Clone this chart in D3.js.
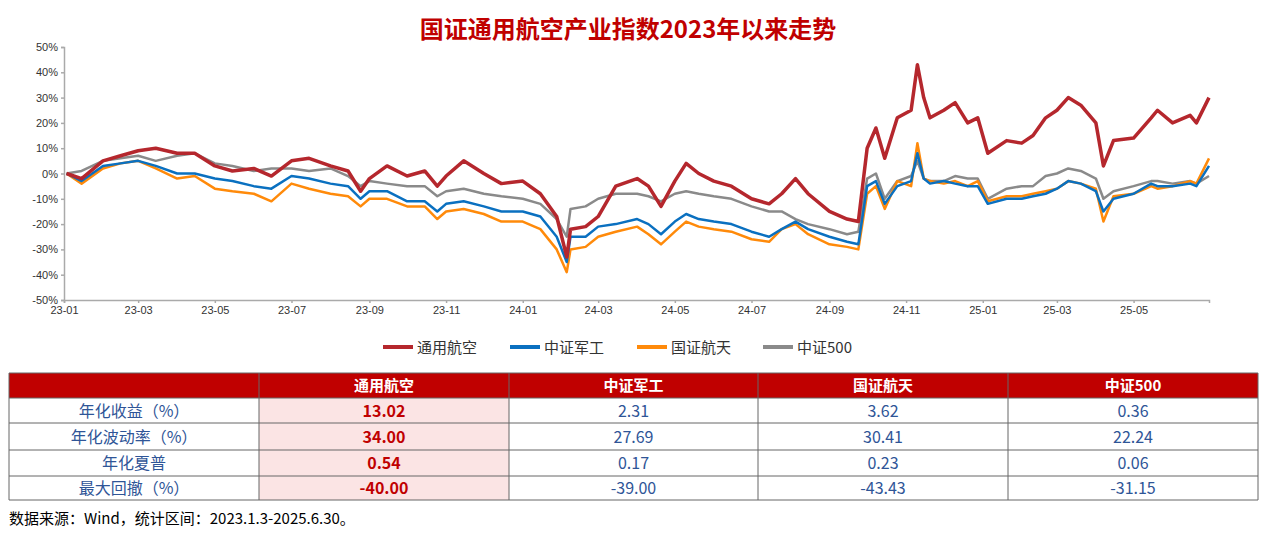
<!DOCTYPE html>
<html><head><meta charset="utf-8">
<script src="https://cdn.jsdelivr.net/npm/d3@7"></script>
<style>body{margin:0;background:#fff;font-family:"Noto Sans CJK SC",sans-serif}</style>
</head><body><svg id="c" width="1269" height="538"></svg>
<script>
const dates=["2023-01-03","2023-01-15","2023-02-01","2023-02-15","2023-03-01","2023-03-15","2023-04-01","2023-04-15","2023-05-01","2023-05-15","2023-06-01","2023-06-15","2023-07-01","2023-07-15","2023-08-01","2023-08-15","2023-08-25","2023-09-01","2023-09-15","2023-10-01","2023-10-15","2023-10-25","2023-11-01","2023-11-15","2023-12-01","2023-12-15",
"2024-01-01","2024-01-15","2024-01-28","2024-02-05","2024-02-08","2024-02-20","2024-03-01","2024-03-15","2024-04-01","2024-04-10","2024-04-20","2024-05-01","2024-05-10","2024-05-20","2024-06-01","2024-06-15","2024-07-01","2024-07-15","2024-07-25","2024-08-05","2024-08-15","2024-09-01","2024-09-15","2024-09-24","2024-10-01","2024-10-08","2024-10-15","2024-10-25","2024-11-05","2024-11-10","2024-11-15","2024-11-20","2024-12-01","2024-12-10","2024-12-20","2024-12-28",
"2025-01-05","2025-01-20","2025-02-01","2025-02-10","2025-02-20","2025-03-01","2025-03-10","2025-03-20","2025-04-01","2025-04-07","2025-04-15","2025-05-01","2025-05-15","2025-05-20","2025-06-01","2025-06-15","2025-06-20","2025-06-30"];
const tyhk=[0,-2,5,7,9,10,8,8,3,1,2,-1,5,6,3,1,-7,-2,3,-1,1,-5,-1,5,0,-4,
-3,-8,-17,-33,-22,-21,-17,-5,-2,-5,-13,-3,4,0,-3,-5,-10,-12,-8,-2,-8,-15,-18,-19,10,18,6,22,25,43,30,22,25,28,20,22,
8,13,12,15,22,25,30,27,20,3,13,14,22,25,20,23,20,30];
const zzjg=[0,-3,3,4,5,3,0,0,-2,-3,-5,-6,-1,-2,-4,-5,-10,-7,-7,-11,-11,-15,-12,-11,-13,-15,
-15,-17,-25,-35,-25,-25,-21,-20,-18,-20,-24,-19,-16,-18,-19,-20,-23,-25,-22,-19,-22,-25,-27,-28,-5,-3,-12,-5,-3,8,-2,-4,-3,-4,-5,-5,
-12,-10,-10,-9,-8,-6,-3,-4,-7,-15,-10,-8,-4,-5,-5,-4,-5,3];
const gzht=[0,-4,2,4,5,2,-2,-1,-6,-7,-8,-11,-4,-6,-8,-9,-13,-10,-10,-13,-13,-18,-15,-14,-16,-19,
-19,-22,-30,-39,-30,-29,-25,-23,-21,-24,-28,-23,-19,-21,-22,-23,-26,-27,-22,-20,-24,-28,-29,-30,-8,-5,-14,-3,-5,12,-2,-3,-4,-3,-5,-3,
-11,-9,-9,-8,-7,-6,-3,-4,-6,-19,-9,-8,-5,-6,-5,-3,-4,6];
const zz500=[0,1,5,6,7,5,7,8,4,3,1,2,2,1,2,-1,-5,-3,-4,-5,-5,-9,-7,-6,-8,-9,
-10,-12,-18,-25,-14,-13,-10,-8,-8,-9,-11,-8,-7,-8,-9,-10,-13,-15,-15,-18,-20,-22,-24,-23,-2,0,-10,-3,-1,5,-2,-3,-3,-1,-2,-2,
-10,-6,-5,-5,-1,0,2,1,-2,-10,-7,-5,-3,-3,-4,-3,-4,-1];
const seriesNames=["通用航空","中证军工","国证航天","中证500"];
const colors=["#b5272d","#0a70c0","#ff8a0a","#8a8a8a"];
const yTicks=[-50,-40,-30,-20,-10,0,10,20,30,40,50];
const xTickLabels=["23-01","23-03","23-05","23-07","23-09","23-11","24-01","24-03","24-05","24-07","24-09","24-11","25-01","25-03","25-05"];
const tableHeader=["","通用航空","中证军工","国证航天","中证500"];
const tableRows=[["年化收益（%）","13.02","2.31","3.62","0.36"],["年化波动率（%）","34.00","27.69","30.41","22.24"],["年化夏普","0.54","0.17","0.23","0.06"],["最大回撤（%）","-40.00","-39.00","-43.43","-31.15"]];

const svg=d3.select("#c");
const parse=d3.timeParse("%Y-%m-%d");
const D=dates.map(parse);
const x=d3.scaleTime().domain([parse("2023-01-01"),parse("2025-06-30")]).range([64,1209]);
const y=d3.scaleLinear().domain([-50,50]).range([300,47]);
svg.append("text").attr("x",628).attr("y",38).attr("text-anchor","middle").attr("fill","#c00000").attr("font-size",24).attr("font-weight","bold").text("国证通用航空产业指数2023年以来走势");
const ya=svg.append("g").attr("transform","translate(64,0)").call(d3.axisLeft(y).tickValues(yTicks).tickSize(3).tickFormat(d=>d+"%"));
const xTickDates=xTickLabels.map(s=>parse("20"+s+"-01"));
const xa=svg.append("g").attr("transform","translate(0,300)").call(d3.axisBottom(x).tickValues(xTickDates).tickSize(3).tickFormat((d,i)=>xTickLabels[i]));
[ya,xa].forEach(a=>{a.selectAll("path,line").attr("stroke","#aaa").attr("stroke-width",1.5);a.selectAll("text").attr("font-family","Liberation Sans, Arial").attr("font-size",11).attr("fill","#333");});
const data=[tyhk,zzjg,gzht,zz500];
const line=d3.line().x((d,i)=>x(D[i])).y(d=>y(d));
[3,2,1,0].forEach(k=>{svg.append("path").datum(data[k]).attr("d",line).attr("fill","none").attr("stroke",colors[k]).attr("stroke-width",k==0?3.5:2.5).attr("stroke-linejoin","round");});
const lx=[383,510,637,763];
seriesNames.forEach((n,i)=>{const g=svg.append("g").attr("transform",`translate(${lx[i]},347)`);
g.append("line").attr("x1",0).attr("x2",30).attr("stroke",colors[i]).attr("stroke-width",4);
g.append("text").attr("x",34).attr("y",6).attr("font-size",15).attr("fill","#333").text(n);});
const cx=[9,259,509,758,1008,1258], ry=[373,398,423,450,476,500];
svg.append("rect").attr("x",9).attr("y",373).attr("width",1249).attr("height",25).attr("fill","#c00000");
svg.append("rect").attr("x",259).attr("y",398).attr("width",250).attr("height",102).attr("fill","#fbe4e4");
tableHeader.forEach((h,j)=>{if(j>0)svg.append("text").attr("x",(cx[j]+cx[j+1])/2).attr("y",391).attr("text-anchor","middle").attr("fill","#fff").attr("font-weight","bold").attr("font-size",15).text(h);});
tableRows.forEach((r,i)=>{r.forEach((v,j)=>{svg.append("text").attr("x",(cx[j]+cx[j+1])/2).attr("y",(ry[i+1]+ry[i+2])/2+6).attr("text-anchor","middle")
.attr("fill",j==1?"#c00000":"#2f5597").attr("font-weight",j==1?"bold":"normal").attr("font-size",16).text(v);});});
for(let i=1;i<ry.length;i++)svg.append("line").attr("x1",9).attr("x2",1258).attr("y1",ry[i]).attr("y2",ry[i]).attr("stroke","#666").attr("stroke-width",1);
cx.forEach(c=>svg.append("line").attr("x1",c).attr("x2",c).attr("y1",373).attr("y2",500).attr("stroke","#666").attr("stroke-width",1));
svg.append("line").attr("x1",9).attr("x2",1258).attr("y1",373).attr("y2",373).attr("stroke","#666");
svg.append("text").attr("x",9).attr("y",524).attr("font-size",15).attr("fill","#000").text("数据来源：Wind，统计区间：2023.1.3-2025.6.30。");
</script></body></html>
